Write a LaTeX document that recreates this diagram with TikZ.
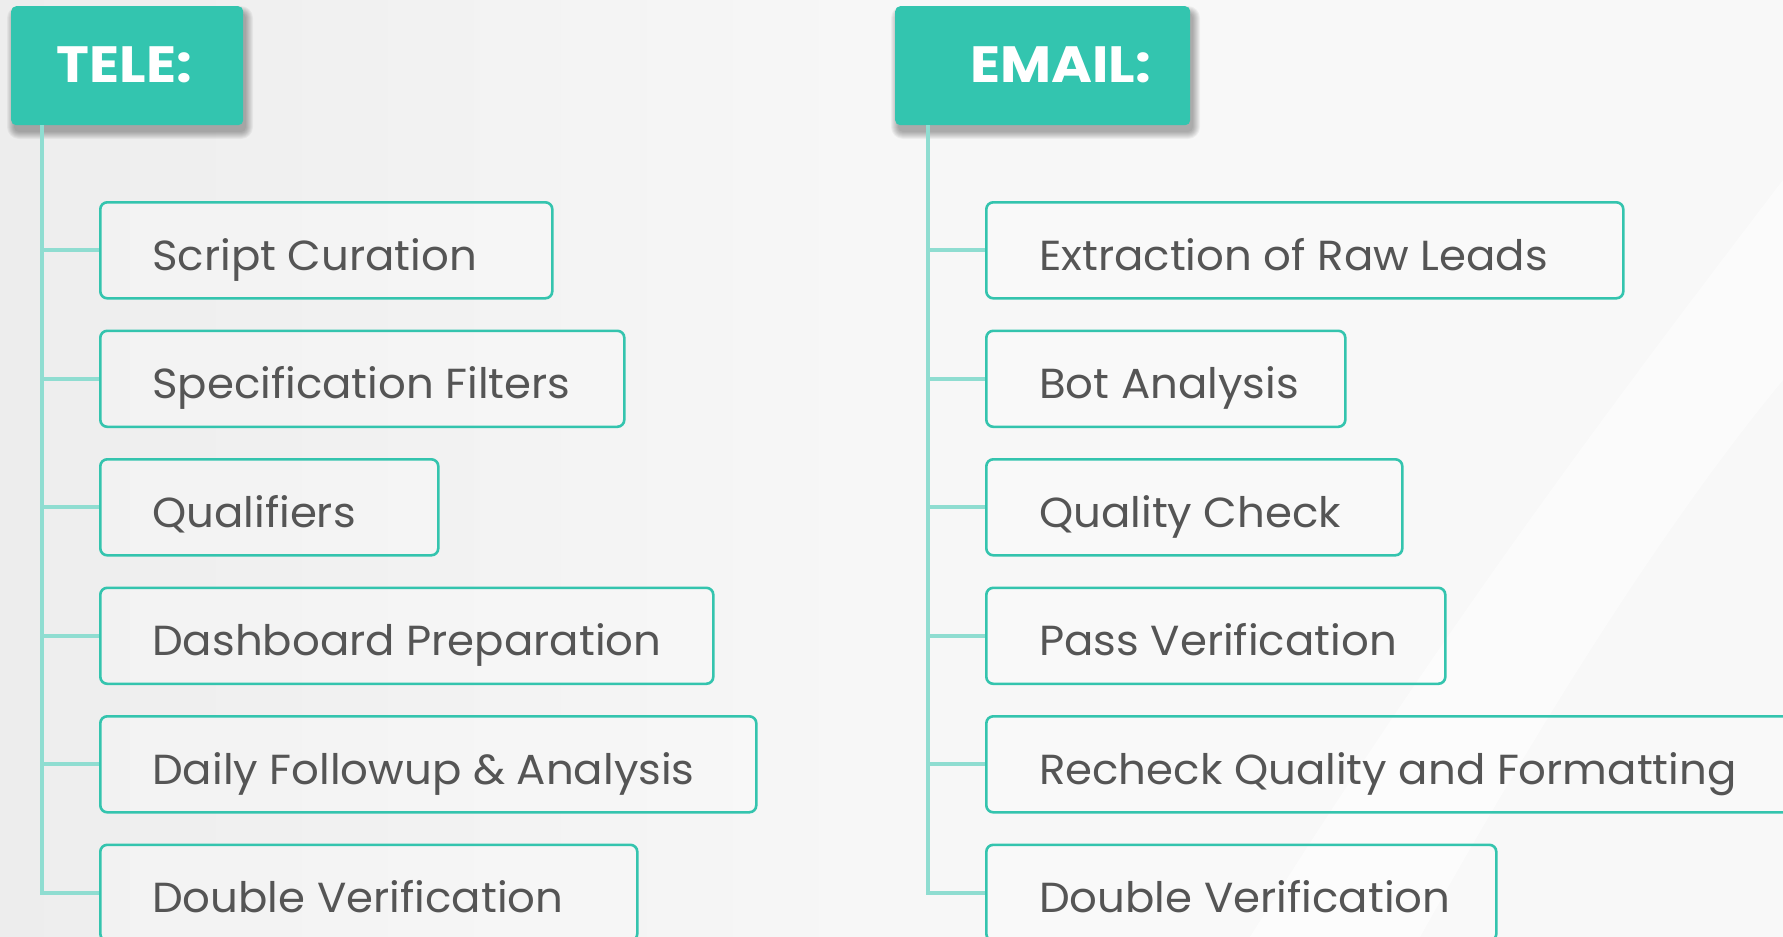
\documentclass[tikz,border=0pt]{standalone}
\usepackage{fontspec}
\setmainfont{Poppins}
\newfontfamily\itemfont{Poppins}[FakeStretch=1.035]
\newfontfamily\hdrfont{Poppins}[FakeStretch=1.09]
\usetikzlibrary{calc}
\definecolor{hdr}{HTML}{33C5AF}
\definecolor{bord}{HTML}{34C4AE}
\definecolor{connc}{HTML}{8FDDD1}
\definecolor{txt}{HTML}{555555}
\definecolor{bgl}{HTML}{EDEDED}
\definecolor{bgr}{HTML}{F8F8F8}
\begin{document}
\begin{tikzpicture}[x=1pt,y=-1pt,
  header/.style={fill=hdr, rounded corners=5pt, anchor=north west, inner sep=0pt,
    minimum height=119pt},
  htext/.style={anchor=base, text=white, font=\fontsize{51}{53}\hdrfont\bfseries, inner sep=0pt},
  item/.style={draw=bord, line width=2.6pt, rounded corners=7pt, fill=white, fill opacity=0.25,
    anchor=north west, inner sep=0pt, minimum height=96pt},
  itext/.style={anchor=base west, text=txt, font=\fontsize{42}{44}\itemfont, inner sep=0pt},
  conn/.style={draw=connc, line width=4pt}
]
\clip (0,0) rectangle (1783,937);
\shade[left color=bgl, right color=bgr, middle color=white!97!black] (0,0) rectangle (1783,937);
\fill[white, opacity=0.55] (1783,180) .. controls (1600,420) and (1450,620) .. (1250,937) -- (1420,937) .. controls (1580,650) and (1700,480) .. (1783,380) -- cycle;

% soft shadows behind headers
\foreach \k in {0,...,7}{
  \fill[black, opacity=0.045, rounded corners={5+\k}] ({11+3-\k},{6+7-\k}) rectangle ({243+3+\k},{125+7+\k});
  \fill[black, opacity=0.045, rounded corners={5+\k}] ({895+3-\k},{6+7-\k}) rectangle ({1190+3+\k},{125+7+\k});
}

% ---- TELE ----
\node[header, minimum width=232pt] (tele) at (11,6) {};
\node[htext] (telet) at (124.5,82) {TELE:};
\coordinate (tv) at (41.5,125);

\foreach \n/\w/\t [count=\i from 0] in
  {t1/452/Script Curation, t2/524/Specification Filters, t3/338/Qualifiers,
   t4/613/Dashboard Preparation, t5/656/Daily Followup \& Analysis, t6/537/Double Verification}{
  \node[item, minimum width=\w pt] (\n) at (99,{201+128.5*\i}) {};
  \node[itext] (\n l) at (152,{270+128.5*\i}) {\t};
}
\draw[conn] (tv) |- (t6.west);
\foreach \n in {t1,t2,t3,t4,t5}{\draw[conn] (tv |- \n.west) -- (\n.west);}

% ---- EMAIL ----
\node[header, minimum width=295pt] (email) at (895,6) {};
\node[htext] (emailt) at (1060.5,82) {EMAIL:};
\coordinate (ev) at (928,125);

\foreach \n/\w/\t [count=\i from 0] in
  {e1/637/Extraction of Raw Leads, e2/359/Bot Analysis, e3/416/Quality Check,
   e4/459/Pass Verification, e5/850/Recheck Quality and Formatting, e6/510/Double Verification}{
  \node[item, minimum width=\w pt] (\n) at (985,{201+128.5*\i}) {};
  \node[itext] (\n l) at (1039,{270+128.5*\i}) {\t};
}
\draw[conn] (ev) |- (e6.west);
\foreach \n in {e1,e2,e3,e4,e5}{\draw[conn] (ev |- \n.west) -- (\n.west);}
\end{tikzpicture}
\end{document}
